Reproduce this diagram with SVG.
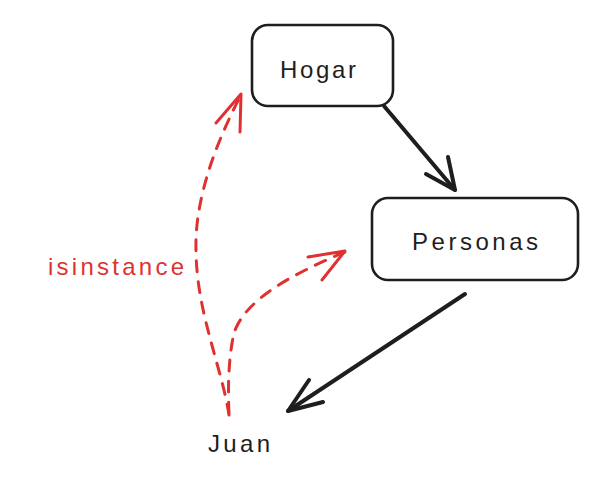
<svg xmlns="http://www.w3.org/2000/svg" width="611" height="486" viewBox="0 0 611 486">
<style>
.box{fill:#fff;stroke:#1e1e1e;stroke-width:2.6}
.lbl{font-family:"Liberation Sans",Arial,sans-serif;font-size:24px;fill:#1e1e1e;text-anchor:middle}
.blk{fill:none;stroke:#1e1e1e;stroke-width:4;stroke-linecap:round;stroke-linejoin:round}
.red{fill:none;stroke:#e03131;stroke-width:3;stroke-linecap:round;stroke-linejoin:round}
.dash{stroke-dasharray:11 10}
</style>
<rect width="611" height="486" fill="#fff"/>
<g id="hogar">
<rect class="box" x="252" y="25" width="141" height="81" rx="16"/>
<text class="lbl" x="318" y="78" textLength="76" lengthAdjust="spacing">Hogar</text>
</g>
<g id="personas">
<rect class="box" x="372" y="198" width="206" height="82" rx="16"/>
<text class="lbl" x="475" y="250" textLength="126" lengthAdjust="spacing">Personas</text>
</g>
<g id="juan">
<text class="lbl" x="239" y="452" textLength="62" lengthAdjust="spacing">Juan</text>
</g>
<g id="connectors">
<path class="blk" d="M384 106 L455 190"/>
<path class="blk" stroke-width="3" d="M426 174 L455 190 L448 157"/>
<path class="blk" d="M465 294 L288 411"/>
<path class="blk" stroke-width="3" d="M309 380 L288 411 L323 402"/>
<path class="red dash" d="M229 415 C226 395 220 375 216 360 C205 320 195 285 196 240 C197 200 212 150 241 95"/>
<path class="red" d="M216 123 L241 94 L240 132"/>
<path class="red dash" d="M229 413 C228 390 228 360 234 333 C245 300 290 275 345 252"/>
<path class="red" d="M308 257 L345 251 L322 280"/>
<text x="116" y="275" font-family="'Liberation Sans',Arial,sans-serif" font-size="24" fill="#e03131" text-anchor="middle" textLength="136" lengthAdjust="spacing">isinstance</text>
</g>
</svg>
